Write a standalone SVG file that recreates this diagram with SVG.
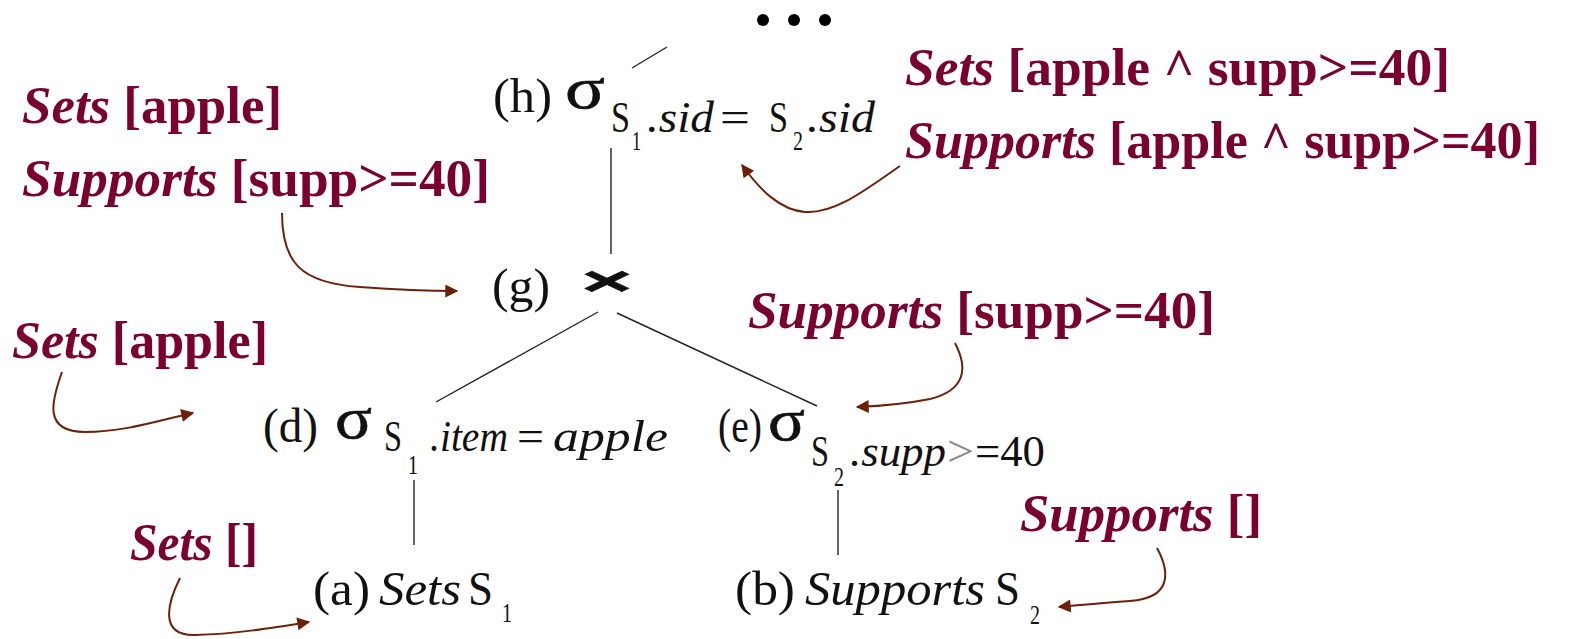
<svg xmlns="http://www.w3.org/2000/svg" width="1572" height="639" viewBox="0 0 1572 639">
<defs>
<style>
text{font-family:"Liberation Serif","Times New Roman",Tinos,Times,serif}
.n{fill:#111;font-size:48px}
.f{fill:#111;font-size:45px}
.s{font-size:28px;font-style:normal}
.it{font-style:italic}
.sig{fill:#111;font-size:60px;stroke:#111;stroke-width:0.6}
.r{fill:#7a0030;font-size:52px;font-weight:bold}
.edge{stroke:#222;stroke-width:1.4;fill:none}
.ann{stroke:#6b2008;stroke-width:2;fill:none;marker-end:url(#ah)}
</style>
<marker id="ah" viewBox="0 0 10 10" refX="9" refY="5" markerWidth="18" markerHeight="13" markerUnits="userSpaceOnUse" orient="auto">
<path d="M0,0 L10,5 L0,10 z" fill="#6b2008"/>
</marker>
</defs>
<rect width="1572" height="639" fill="#fff"/>
<g id="dots" fill="#000">
<circle cx="763" cy="20" r="6"/><circle cx="794" cy="20" r="6"/><circle cx="825" cy="20" r="6"/>
</g>
<g id="connectors">
<line class="edge" x1="632" y1="68" x2="667" y2="47"/>
<line class="edge" x1="611" y1="148" x2="611" y2="254"/>
<line class="edge" x1="598" y1="312" x2="436" y2="402"/>
<line class="edge" x1="617" y1="313" x2="817" y2="406"/>
<line class="edge" x1="414" y1="480" x2="414" y2="545"/>
<line class="edge" x1="838" y1="490" x2="838" y2="555"/>
<path class="ann" d="M900,166 C865,190 835,214 805,212 C780,210 760,190 742,165"/>
<path class="ann" d="M282,213 C282,262 300,283 360,287 C400,290 430,291 457,291"/>
<path class="ann" d="M62,372 C52,400 42,432 85,432 C125,432 160,420 193,413"/>
<path class="ann" d="M955,343 C968,368 966,390 930,399 C905,404 882,406 857,407"/>
<path class="ann" d="M180,578 C168,602 158,636 195,635 C235,634 272,628 309,622"/>
<path class="ann" d="M1157,548 C1170,572 1172,598 1130,601 C1102,603 1082,605 1059,607"/>
</g>
<g id="node-h">
<text class="n" x="493" y="112" textLength="59" lengthAdjust="spacingAndGlyphs">(h)</text>
<text class="sig" x="565" y="108" textLength="40" lengthAdjust="spacingAndGlyphs">σ</text>
<text class="f" x="611" y="132"><tspan textLength="19" lengthAdjust="spacingAndGlyphs">S</tspan><tspan class="s" x="632" y="150" textLength="9" lengthAdjust="spacingAndGlyphs">1</tspan><tspan class="it" x="647" y="132" textLength="67" lengthAdjust="spacingAndGlyphs">.sid</tspan><tspan x="720" textLength="30" lengthAdjust="spacingAndGlyphs">=</tspan><tspan x="769" textLength="19" lengthAdjust="spacingAndGlyphs">S</tspan><tspan class="s" x="793" y="150" textLength="10" lengthAdjust="spacingAndGlyphs">2</tspan><tspan class="it" x="807" y="132" textLength="68" lengthAdjust="spacingAndGlyphs">.sid</tspan></text>
</g>
<g id="node-g">
<text class="n" x="492" y="302" textLength="58" lengthAdjust="spacingAndGlyphs">(g)</text>
<text transform="translate(607,295) scale(1.45,0.68)" text-anchor="middle" style="font-family:'Liberation Sans',sans-serif;font-weight:bold;font-size:60px;fill:#111;stroke:#111;stroke-width:1">×</text>
</g>
<g id="node-d">
<text class="n" x="263" y="442" textLength="55" lengthAdjust="spacingAndGlyphs">(d)</text>
<text class="sig" x="335" y="438" textLength="37" lengthAdjust="spacingAndGlyphs">σ</text>
<text class="f" x="384" y="451"><tspan textLength="18" lengthAdjust="spacingAndGlyphs">S</tspan><tspan class="s" x="408" y="474" textLength="10" lengthAdjust="spacingAndGlyphs">1</tspan><tspan class="it" x="430" y="451" textLength="78" lengthAdjust="spacingAndGlyphs">.item</tspan><tspan x="517" textLength="27" lengthAdjust="spacingAndGlyphs">=</tspan><tspan class="it" x="553" textLength="115" lengthAdjust="spacingAndGlyphs">apple</tspan></text>
</g>
<g id="node-e">
<text class="n" x="718" y="442" textLength="44" lengthAdjust="spacingAndGlyphs">(e)</text>
<text class="sig" x="768" y="440" textLength="37" lengthAdjust="spacingAndGlyphs">σ</text>
<text class="f" x="811" y="466"><tspan textLength="18" lengthAdjust="spacingAndGlyphs">S</tspan><tspan class="s" x="834" y="486" textLength="10" lengthAdjust="spacingAndGlyphs">2</tspan><tspan class="it" x="850" y="466" textLength="96" lengthAdjust="spacingAndGlyphs">.supp</tspan><tspan fill="#8a8a8a" x="947" textLength="27" lengthAdjust="spacingAndGlyphs">&gt;</tspan><tspan x="975" textLength="70" lengthAdjust="spacingAndGlyphs">=40</tspan></text>
</g>
<g id="node-a">
<text class="n" x="313" y="605"><tspan textLength="57" lengthAdjust="spacingAndGlyphs">(a)</tspan><tspan class="it" x="379" textLength="82" lengthAdjust="spacingAndGlyphs">Sets</tspan><tspan x="468" textLength="25" lengthAdjust="spacingAndGlyphs">S</tspan><tspan class="s" x="502" y="622" textLength="10" lengthAdjust="spacingAndGlyphs">1</tspan></text>
</g>
<g id="node-b">
<text class="n" x="735" y="605"><tspan textLength="60" lengthAdjust="spacingAndGlyphs">(b)</tspan><tspan class="it" x="805" textLength="180" lengthAdjust="spacingAndGlyphs">Supports</tspan><tspan x="995" textLength="25" lengthAdjust="spacingAndGlyphs">S</tspan><tspan class="s" x="1030" y="624" textLength="10" lengthAdjust="spacingAndGlyphs">2</tspan></text>
</g>
<g id="labels">
<text class="r" x="905" y="85" textLength="545" lengthAdjust="spacingAndGlyphs"><tspan class="it">Sets</tspan> [apple ^ supp&gt;=40]</text>
<text class="r" x="905" y="158" textLength="635" lengthAdjust="spacingAndGlyphs"><tspan class="it">Supports</tspan> [apple ^ supp&gt;=40]</text>
<text class="r" x="22" y="123" textLength="260" lengthAdjust="spacingAndGlyphs"><tspan class="it">Sets</tspan> [apple]</text>
<text class="r" x="22" y="196" textLength="468" lengthAdjust="spacingAndGlyphs"><tspan class="it">Supports</tspan> [supp&gt;=40]</text>
<text class="r" x="12" y="358" textLength="256" lengthAdjust="spacingAndGlyphs"><tspan class="it">Sets</tspan> [apple]</text>
<text class="r" x="748" y="328" textLength="467" lengthAdjust="spacingAndGlyphs"><tspan class="it">Supports</tspan> [supp&gt;=40]</text>
<text class="r" x="130" y="560" textLength="128" lengthAdjust="spacingAndGlyphs"><tspan class="it">Sets</tspan> []</text>
<text class="r" x="1020" y="531" textLength="242" lengthAdjust="spacingAndGlyphs"><tspan class="it">Supports</tspan> []</text>
</g>
</svg>
